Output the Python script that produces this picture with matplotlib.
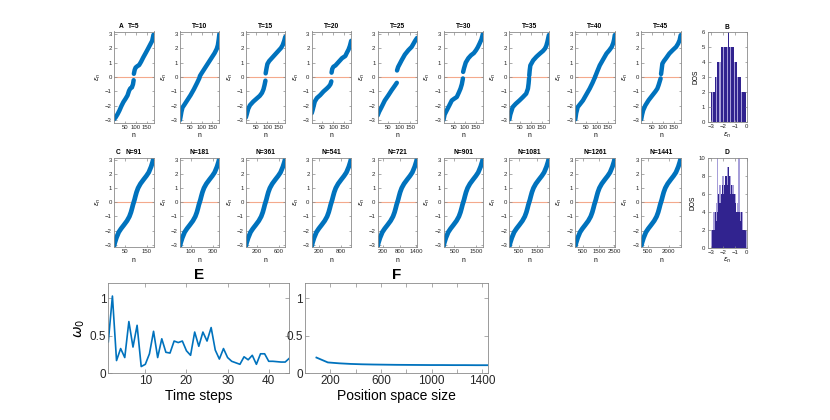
import numpy as np
import matplotlib
matplotlib.use('Agg')
import matplotlib.pyplot as plt

plt.rcParams['font.family'] = ['Liberation Sans', 'DejaVu Sans']
plt.rcParams['mathtext.fontset'] = 'dejavusans'

# ---- data ----
time_steps = [5, 10, 15, 20, 25, 30, 35, 40, 45]

# sorted quasi-energies, lower (negative) and upper (positive) branch, per time step
top_low_n = [
    [1, 8, 18, 26, 35, 44, 54, 63, 70, 76, 83, 88, 91],
    [1, 4, 8, 13, 20, 35, 50, 65, 80, 91],
    [1, 5, 12, 20, 35, 50, 65, 75, 82, 87, 91],
    [1, 5, 10, 15, 25, 40, 55, 70, 80, 87, 91],
    [1, 8, 19, 34, 50, 65, 81, 89],
    [1, 6, 16, 28, 39, 50, 62, 72, 79, 85, 90],
    [1, 5, 16, 30, 47, 62, 78, 86, 89, 91],
    [1, 5, 12, 24, 36, 50, 67, 80, 91],
    [1, 5, 10, 20, 35, 52, 66, 75, 81, 86, 90],
]
top_low_eps = [
    [-2.92, -2.8, -2.55, -2.31, -2.0, -1.73, -1.5, -1.27, -0.95, -0.78, -0.72, -0.5, -0.22],
    [-2.98, -2.75, -2.4, -2.1, -1.95, -1.6, -1.25, -0.85, -0.4, -0.05],
    [-2.8, -2.6, -2.2, -1.95, -1.7, -1.5, -1.3, -1.1, -0.85, -0.55, -0.25],
    [-2.5, -2.3, -2.0, -1.7, -1.45, -1.25, -1.0, -0.8, -0.65, -0.5, -0.3],
    [-2.66, -2.4, -2.08, -1.62, -1.27, -0.92, -0.58, -0.4],
    [-2.96, -2.6, -2.3, -1.95, -1.62, -1.5, -1.38, -1.05, -0.8, -0.5, -0.1],
    [-2.92, -2.6, -2.08, -1.85, -1.62, -1.4, -1.15, -0.8, -0.45, -0.1],
    [-2.92, -2.5, -2.08, -1.85, -1.62, -1.25, -0.8, -0.4, -0.02],
    [-2.92, -2.6, -2.3, -1.96, -1.6, -1.27, -1.0, -0.8, -0.55, -0.3, -0.1],
]
top_up_n = [
    [92, 96, 100, 108, 116, 125, 135, 146, 155, 162, 169, 176, 182],
    [92, 100, 115, 130, 145, 160, 170, 175, 179, 182],
    [92, 96, 100, 108, 120, 135, 150, 162, 170, 177, 182],
    [92, 95, 100, 110, 125, 140, 155, 163, 170, 176, 182],
    [90, 95, 111, 126, 142, 157, 173, 182],
    [91, 95, 103, 115, 127, 140, 150, 158, 166, 175, 182],
    [92, 94, 97, 110, 125, 141, 155, 164, 170, 175, 182],
    [92, 102, 113, 128, 144, 157, 168, 175, 179, 182],
    [92, 95, 98, 105, 115, 130, 145, 161, 170, 177, 182],
]
top_up_eps = [
    [0.22, 0.5, 0.65, 0.75, 0.82, 1.05, 1.35, 1.65, 1.9, 2.1, 2.3, 2.5, 2.92],
    [0.05, 0.25, 0.6, 0.95, 1.3, 1.65, 1.95, 2.2, 2.6, 2.98],
    [0.25, 0.6, 0.9, 1.1, 1.3, 1.55, 1.8, 2.0, 2.2, 2.5, 2.78],
    [0.3, 0.55, 0.7, 0.8, 1.05, 1.3, 1.45, 1.7, 1.9, 2.15, 2.5],
    [0.45, 0.69, 1.15, 1.55, 1.85, 2.08, 2.5, 2.7],
    [0.35, 0.6, 1.0, 1.3, 1.5, 1.65, 1.85, 2.05, 2.3, 2.6, 3.0],
    [0.1, 0.45, 0.8, 1.15, 1.4, 1.62, 1.8, 1.96, 2.15, 2.42, 2.9],
    [0.02, 0.4, 0.8, 1.2, 1.62, 1.85, 2.08, 2.35, 2.6, 2.9],
    [0.2, 0.55, 0.92, 1.1, 1.3, 1.62, 1.85, 2.08, 2.3, 2.54, 2.89],
]

sizes_N = [91, 181, 361, 541, 721, 901, 1081, 1261, 1441]
size_ticks = [[50, 150], [100, 300], [200, 600], [200, 800], [200, 800, 1400],
              [500, 1500], [500, 1500], [500, 1500, 2500], [500, 2000]]
# same S-shaped profile in every size panel, read at fractions n/(2N)
profile_frac = [0.0, 0.02, 0.06, 0.12, 0.18, 0.25, 0.33, 0.39, 0.43, 0.46, 0.48, 0.5,
                0.52, 0.54, 0.57, 0.61, 0.67, 0.75, 0.82, 0.88, 0.94, 0.98, 1.0]
profile_eps = [-3.08, -2.85, -2.5, -2.1, -1.85, -1.6, -1.3, -1.0, -0.7, -0.4, -0.18, 0.0,
               0.18, 0.4, 0.7, 1.0, 1.3, 1.6, 1.85, 2.1, 2.5, 2.85, 3.08]

# density of states histograms (bin width 0.1 on [-3, 0])
dos_centers = np.arange(-2.95, 0, 0.1)
dos_b_light = [2, 2, 2, 3, 3, 4, 4, 4, 5, 5, 5, 5, 5, 5, 6, 5, 5, 5, 5, 4, 4, 4, 3, 3, 3, 2, 2, 2, 2, 0]
dos_b_dark = [2, 0, 2, 3, 0, 4, 4, 0, 5, 5, 0, 5, 5, 0, 6, 5, 0, 5, 5, 0, 4, 4, 0, 3, 3, 0, 2, 2, 2, 0]
dos_d_light = [2, 2, 4, 4, 5, 10, 6, 7, 6, 8, 8, 7, 8, 9, 9, 8, 8, 7, 7, 6, 6, 4, 5, 10, 4, 4, 4, 2, 2, 2]
dos_d_dark = [0, 2, 2, 4, 3, 4, 6, 5, 6, 7, 6, 7, 8, 7, 9, 8, 6, 7, 6, 6, 5, 4, 4, 4, 3, 4, 2, 2, 2, 0]

steps = list(range(1, 46))
omega_time = [0.42, 1.03, 0.17, 0.33, 0.21, 0.69, 0.35, 0.64, 0.09, 0.12,
              0.26, 0.56, 0.21, 0.46, 0.28, 0.27, 0.43, 0.41, 0.43, 0.30,
              0.24, 0.55, 0.36, 0.55, 0.43, 0.61, 0.31, 0.19, 0.33, 0.21,
              0.16, 0.14, 0.12, 0.22, 0.18, 0.24, 0.12, 0.26, 0.26, 0.16,
              0.16, 0.155, 0.15, 0.15, 0.20]
space_sizes = [91, 181, 271, 361, 451, 541, 631, 721, 811, 901, 991, 1081, 1171, 1261, 1351, 1441]
omega_size = [0.21, 0.145, 0.133, 0.125, 0.12, 0.117, 0.115, 0.113, 0.112, 0.111,
              0.11, 0.11, 0.109, 0.109, 0.108, 0.108]

# ---- drawing ----
BLUE = '#0072bd'
ZERO = '#f4a98c'
DARK = '#31238f'
LIGHT = '#a79fd9'
W, H = 830, 420
SMALL = 4.3
LABEL = 4.8

fig = plt.figure(figsize=(W / 100, H / 100), dpi=100)


def px_axes(left, top, width, height):
    return fig.add_axes([left / W, 1 - (top + height) / H, width / W, height / H])


def style(ax, size=SMALL, length=1.8):
    for s in ax.spines.values():
        s.set_color('#8a8a8a')
        s.set_linewidth(0.6)
    ax.tick_params(direction='in', length=length, width=0.5, labelsize=size, pad=1.5,
                   top=True, right=True, colors='#8a8a8a', labelcolor='#262626')


def panel_letter(ax, letter, x):
    ax.annotate(letter, xy=(x, 1), xycoords='axes fraction', xytext=(0, 2.5),
                textcoords='offset points', ha='center', va='baseline',
                fontsize=LABEL, fontweight='bold')


def eps_panel(ax, title):
    style(ax)
    ax.axhline(0, color=ZERO, lw=0.8, zorder=1)
    ax.set_ylim(-np.pi, np.pi)
    ax.set_yticks([-3, -2, -1, 0, 1, 2, 3])
    ax.set_title(title, fontsize=LABEL, fontweight='bold', pad=2.5)
    ax.set_ylabel(r'$\epsilon_n$', fontsize=LABEL, labelpad=1.5)
    ax.set_xlabel('n', fontsize=LABEL, labelpad=2)


col_left = [114 + 65.9 * i for i in range(9)]

for i, T in enumerate(time_steps):
    ax = px_axes(col_left[i], 31.5, 39.5, 91)
    eps_panel(ax, f'T={T}')
    for n, e in ((top_low_n[i], top_low_eps[i]), (top_up_n[i], top_up_eps[i])):
        ax.plot(n, e, color=BLUE, lw=3.2, solid_capstyle='round', solid_joinstyle='round', zorder=2)
    ax.set_xlim(1, 182)
    ax.set_xticks([50, 100, 150])
    if i == 0:
        panel_letter(ax, 'A', 0.18)

for i, N in enumerate(sizes_N):
    ax = px_axes(col_left[i], 157.5, 39.5, 89.5)
    eps_panel(ax, f'N={N}')
    n = [1 + f * (2 * N - 1) for f in profile_frac]
    ax.plot(n, profile_eps, color=BLUE, lw=3.4, solid_capstyle='round', solid_joinstyle='round', zorder=2)
    ax.set_xlim(1, 2 * N)
    ax.set_xticks(size_ticks[i])
    if i == 0:
        panel_letter(ax, 'C', 0.1)

for top, light, dark, title, ymax in ((32, dos_b_light, dos_b_dark, 'B', 6),
                                      (157.5, dos_d_light, dos_d_dark, 'D', 10)):
    ax = px_axes(707.5, top, 39.2, 90)
    style(ax)
    ax.bar(dos_centers, light, width=0.1, color=LIGHT, edgecolor='none')
    ax.bar(dos_centers, dark, width=0.1, color=DARK, edgecolor='none')
    ax.set_xlim(-3.3, 0.0)
    ax.set_ylim(0, ymax)
    ax.set_xticks([-3, -2, -1, 0])
    ax.set_yticks(range(0, ymax + 1, 1 if ymax == 6 else 2))
    ax.set_title(title, fontsize=LABEL, fontweight='bold', pad=2.5)
    ax.set_ylabel('DOS', fontsize=LABEL, labelpad=1.5)
    ax.set_xlabel(r'$\epsilon_n$', fontsize=LABEL, labelpad=1)

# E: omega_0 against time steps
ax = px_axes(108.3, 283.3, 181, 90)
style(ax, size=8.5, length=3)
ax.plot(steps, omega_time, color=BLUE, lw=1.2)
ax.set_xlim(1, 45)
ax.set_ylim(0, 1.2)
ax.set_xticks([10, 20, 30, 40])
ax.set_yticks([0, 0.5, 1])
ax.set_yticklabels(['0', '0.5', '1'])
ax.set_title('E', fontsize=11, fontweight='bold', pad=3)
ax.set_xlabel('Time steps', fontsize=10, labelpad=1)
ax.set_ylabel(r'$\omega_0$', fontsize=10, labelpad=2)

# F: omega_0 against position space size
ax = px_axes(305, 283.3, 182.7, 90)
style(ax, size=8.5, length=3)
ax.plot(space_sizes, omega_size, color=BLUE, lw=1.3)
ax.set_xlim(1, 1441)
ax.set_ylim(0, 1.2)
ax.set_xticks([200, 400, 600, 800, 1000, 1200, 1400])
ax.set_xticklabels(['200', '', '600', '', '1000', '', '1400'])
ax.set_yticks([0, 0.5, 1])
ax.set_yticklabels(['0', '0.5', '1'])
ax.set_title('F', fontsize=11, fontweight='bold', pad=3)
ax.set_xlabel('Position space size', fontsize=10, labelpad=1)

fig.savefig('out.png', dpi=100)
